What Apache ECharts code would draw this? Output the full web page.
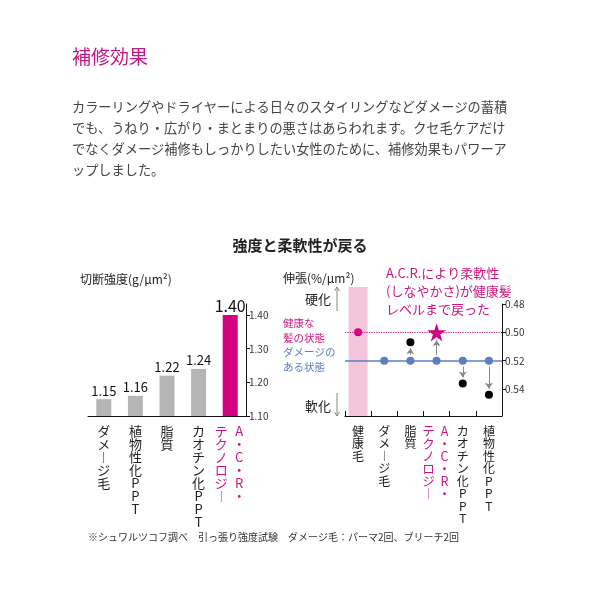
<!DOCTYPE html>
<html><head><meta charset="utf-8">
<script src="https://cdn.jsdelivr.net/npm/echarts@6/dist/echarts.min.js"></script>
<style>html,body{margin:0;padding:0;background:#fff}#c{width:600px;height:600px}</style>
</head><body><div id="c"></div>
<script>
// ---- data ----
const strengthCategories = ['ダメージ毛', '植物性化PPT', '脂質', 'カオチン化PPT', 'A・C・R・テクノロジー'];
const strengthValues = [1.15, 1.16, 1.22, 1.24, 1.40];
const strengthTicks = [1.10, 1.20, 1.30, 1.40];
const elongCategories = ['健康毛', 'ダメージ毛', '脂質', 'A・C・R・テクノロジー', 'カオチン化PPT', '植物性化PPT'];
const healthyValue = 0.50;
const damagedValue = 0.52;
const treatedValues = [null, null, 0.507, 0.50, 0.536, 0.544];
const elongTicks = [0.48, 0.50, 0.52, 0.54];
const paragraphLines = [
  'カラーリングやドライヤーによる日々のスタイリングなどダメージの蓄積',
  'でも、うねり・広がり・まとまりの悪さはあらわれます。クセ毛ケアだけ',
  'でなくダメージ補修もしっかりしたい女性のために、補修効果もパワーア',
  'ップしました。'
];

// ---- style ----
const FONT = '"Noto Sans CJK JP", "Noto Sans", sans-serif';
const PINK = '#d4007f';
const PINK_TXT = '#cc1580';
const BLUE = '#5b7fc0';
const GRAY = '#b5b5b5';
const ACR = 'A・C・R・';

function vchar(c) { return c === 'ー' ? '︱' : c; }
function makeVertical(fs, lh) {
  return function (name) {
    if (name.indexOf(ACR) === 0) {
      const right = Array.from(ACR);
      const left = Array.from(name.slice(ACR.length));
      const n = Math.max(left.length, right.length);
      const rows = [];
      for (let i = 0; i < n; i++) {
        rows.push('{l|' + vchar(left[i] || '　') + '}{r|' + vchar(right[i] || '　') + '}');
      }
      return rows.join('\n');
    }
    return Array.from(name).map(vchar).join('\n');
  };
}
function richFor(fs, lh, w) {
  const s = { width: w, align: 'center', color: PINK_TXT, fontSize: fs, lineHeight: lh, fontFamily: FONT };
  return { l: s, r: s };
}

const chart = echarts.init(document.getElementById('c'), null, { renderer: 'canvas' });

const G1 = { left: 88, top: 304, width: 158, height: 112 };
const G2 = { left: 345, top: 304, width: 157, height: 112 };
const G3 = { left: 345, top: 287, width: 157, height: 129 };

// arrows from damaged level to treated level
const arrowGap = [0, 0, 0.0042, 0.0055, 0.0042, 0.0042];
const startGap = 0.0042;
const arrowLines = [];
treatedValues.forEach(function (v, i) {
  if (v == null) return;
  const dir = v < damagedValue ? -1 : 1;
  arrowLines.push([
    { coord: [i, damagedValue + dir * startGap], symbol: 'none' },
    { coord: [i, v - dir * arrowGap[i]], symbol: 'arrow' }
  ]);
});

const starPath = 'path://M50,0 L61.2,34.5 L97.6,34.5 L68.2,55.9 L79.4,90.5 L50,69.1 L20.6,90.5 L31.8,55.9 L2.4,34.5 L38.8,34.5 Z';

function txt(x, y, text, o) {
  return {
    type: 'text', x: x, y: y, silent: true,
    style: Object.assign({ text: text, fontFamily: FONT, fontSize: 12, fill: '#222', textVerticalAlign: 'middle', textAlign: 'left' }, o || {})
  };
}
function vArrow(x, y1, y2, up) {
  const tip = up ? y1 : y2;
  const d = up ? 4 : -4;
  return [
    { type: 'line', silent: true, shape: { x1: x, y1: y1, x2: x, y2: y2 }, style: { stroke: '#888', lineWidth: 1 } },
    { type: 'polyline', silent: true, shape: { points: [[x - 2.5, tip + d], [x, tip], [x + 2.5, tip + d]] }, style: { stroke: '#888', lineWidth: 1, fill: null } }
  ];
}

const graphics = [
  txt(72, 57, '補修効果', { fontSize: 19, fill: '#bf1a86' }),
  txt(300, 245, '強度と柔軟性が戻る', { fontSize: 15, fontWeight: 'bold', textAlign: 'center', fill: '#222' }),
  txt(80, 279, '切断強度(g/μm²)', { fontSize: 12 }),
  txt(283, 278, '伸張(%/μm²)', { fontSize: 12 }),
  txt(386, 273, 'A.C.R.により柔軟性', { fontSize: 13, fill: PINK_TXT }),
  txt(386, 291, '(しなやかさ)が健康髪', { fontSize: 13, fill: PINK_TXT }),
  txt(386, 309, 'レベルまで戻った', { fontSize: 13, fill: PINK_TXT }),
  txt(331, 299, '硬化', { fontSize: 13, textAlign: 'right' }),
  txt(331, 406, '軟化', { fontSize: 13, textAlign: 'right' }),
  txt(283, 323, '健康な', { fontSize: 10.5, fill: PINK_TXT }),
  txt(283, 338, '髪の状態', { fontSize: 10.5, fill: PINK_TXT }),
  txt(283, 352, 'ダメージの', { fontSize: 10.5, fill: BLUE }),
  txt(283, 367, 'ある状態', { fontSize: 10.5, fill: BLUE }),
  txt(88, 537, '※シュワルツコフ調べ　引っ張り強度試験　ダメージ毛：パーマ2回、ブリーチ2回', { fontSize: 10, fill: '#333' })
].concat(vArrow(337, 287, 311, true), vArrow(337, 393, 416, false));
paragraphLines.forEach(function (l, i) {
  graphics.push(txt(72, 107 + i * 21, l, { fontSize: 13.2, fill: '#444' }));
});

const option = {
  animation: false,
  backgroundColor: '#fff',
  textStyle: { fontFamily: FONT },
  graphic: graphics,
  grid: [
    Object.assign({ containLabel: false }, G1),
    Object.assign({ containLabel: false }, G2),
    Object.assign({ containLabel: false }, G3)
  ],
  xAxis: [
    {
      type: 'category', gridIndex: 0, data: strengthCategories,
      axisLine: { lineStyle: { color: '#111', width: 1 } },
      axisTick: { show: false },
      axisLabel: {
        interval: 0, margin: 9, fontSize: 13, lineHeight: 13, color: '#222', fontFamily: FONT,
        formatter: makeVertical(13, 13), rich: richFor(13, 13, 18)
      }
    },
    {
      type: 'category', gridIndex: 1, data: elongCategories,
      axisLine: { lineStyle: { color: '#111', width: 1 } },
      axisTick: { show: true, inside: true, length: 5, lineStyle: { color: '#111' } },
      axisLabel: {
        interval: 0, margin: 9, fontSize: 12, lineHeight: 12.5, color: '#222', fontFamily: FONT,
        formatter: makeVertical(12, 12.5), rich: richFor(12.5, 12.5, 16)
      }
    },
    {
      type: 'category', gridIndex: 2, data: elongCategories, show: false
    }
  ],
  yAxis: [
    {
      type: 'value', gridIndex: 0, position: 'right', min: 1.10, max: 1.433,
      splitLine: { show: false },
      axisLine: { show: true, lineStyle: { color: '#111' } },
      axisTick: { show: true, length: 4, lineStyle: { color: '#111' }, customValues: strengthTicks },
      axisLabel: { margin: 3, fontSize: 10, color: '#333', customValues: strengthTicks, formatter: function (v) { return v.toFixed(2); } }
    },
    {
      type: 'value', gridIndex: 1, position: 'right', inverse: true, min: 0.48, max: 0.559,
      splitLine: { show: false },
      axisLine: { show: true, lineStyle: { color: '#111' } },
      axisTick: { show: true, length: 4, lineStyle: { color: '#111' }, customValues: elongTicks },
      axisLabel: { margin: 3, fontSize: 10, color: '#333', customValues: elongTicks, formatter: function (v) { return v.toFixed(2); } }
    },
    {
      type: 'value', gridIndex: 2, min: 0, max: 1, show: false
    }
  ],
  series: [
    {
      type: 'bar', xAxisIndex: 0, yAxisIndex: 0, barWidth: 15,
      data: strengthValues.map(function (v, i) {
        const last = i === strengthValues.length - 1;
        return {
          value: v,
          itemStyle: { color: last ? PINK : GRAY },
          label: { fontSize: last ? 16 : 13, distance: last ? 1 : 2 }
        };
      }),
      label: { show: true, position: 'top', color: '#111', fontFamily: FONT, formatter: function (p) { return p.value.toFixed(2); } }
    },
    {
      // healthy-hair band
      type: 'bar', xAxisIndex: 2, yAxisIndex: 2, barWidth: 19, silent: true, z: 0,
      data: elongCategories.map(function (c, i) { return i === 0 ? 1 : null; }),
      itemStyle: { color: '#f4c6dd' }
    },
    {
      // reference lines + arrows
      type: 'scatter', xAxisIndex: 1, yAxisIndex: 1, data: [], z: 1,
      markLine: {
        silent: true, symbol: ['none', 'none'], symbolSize: 6, label: { show: false },
        data: [
          { yAxis: damagedValue, lineStyle: { color: BLUE, width: 1.5, type: 'solid' } },
          { yAxis: healthyValue, lineStyle: { color: PINK_TXT, width: 1.2, type: 'dotted' } }
        ].concat(arrowLines.map(function (a) {
          a[0].lineStyle = { color: '#888', width: 1, type: 'solid' };
          return a;
        }))
      }
    },
    {
      type: 'scatter', xAxisIndex: 1, yAxisIndex: 1, z: 3, symbolSize: 8,
      data: [[0, healthyValue]], itemStyle: { color: PINK, opacity: 1 }
    },
    {
      type: 'scatter', xAxisIndex: 1, yAxisIndex: 1, z: 3, symbolSize: 8,
      data: elongCategories.map(function (c, i) { return i === 0 ? null : [i, damagedValue]; }).filter(Boolean),
      itemStyle: { color: BLUE, opacity: 1 }
    },
    {
      type: 'scatter', xAxisIndex: 1, yAxisIndex: 1, z: 3, symbolSize: 8,
      data: treatedValues.map(function (v, i) { return (v == null || i === 3) ? null : [i, v]; }).filter(Boolean),
      itemStyle: { color: '#000', opacity: 1 }
    },
    {
      type: 'scatter', xAxisIndex: 1, yAxisIndex: 1, z: 4, symbol: starPath, symbolKeepAspect: true, symbolSize: 19,
      data: [[3, treatedValues[3]]], itemStyle: { color: PINK, opacity: 1 }
    }
  ]
};
chart.setOption(option);
</script>
</body></html>
